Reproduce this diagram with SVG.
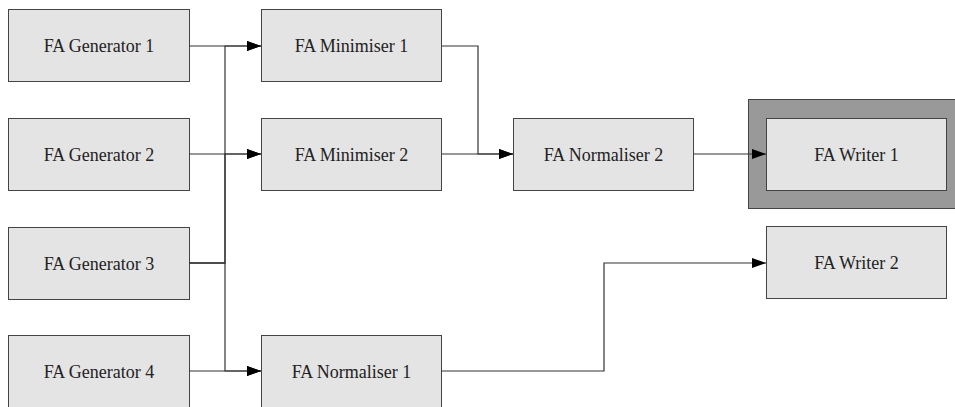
<svg xmlns="http://www.w3.org/2000/svg" width="955" height="407" viewBox="0 0 955 407">
  <style>
    .box { fill: #e4e4e4; stroke: #444; stroke-width: 1; }
    .frame { fill: #999999; stroke: #444; stroke-width: 1; }
    .lbl { font-family: "Liberation Serif", serif; font-size: 18px; fill: #222; text-anchor: middle; }
    .edge { fill: none; stroke: #333; stroke-width: 1.2; }
  </style>
  <defs>
    <marker id="arrow" markerWidth="14" markerHeight="10" refX="14" refY="5" orient="auto" markerUnits="userSpaceOnUse">
      <path d="M0,0 L14,5 L0,10 Z" fill="#000"/>
    </marker>
  </defs>
  <rect width="955" height="407" fill="#fff"/>

  <g id="gen1"><rect class="box" x="8.5" y="9.5" width="181" height="72"/><text class="lbl" x="99" y="52">FA Generator 1</text></g>
  <g id="gen2"><rect class="box" x="8.5" y="118.5" width="181" height="72"/><text class="lbl" x="99" y="161">FA Generator 2</text></g>
  <g id="gen3"><rect class="box" x="8.5" y="227.5" width="181" height="72"/><text class="lbl" x="99" y="270">FA Generator 3</text></g>
  <g id="gen4"><rect class="box" x="8.5" y="335.5" width="181" height="72"/><text class="lbl" x="99" y="378">FA Generator 4</text></g>

  <g id="min1"><rect class="box" x="261.5" y="9.5" width="180" height="72"/><text class="lbl" x="351.5" y="52">FA Minimiser 1</text></g>
  <g id="min2"><rect class="box" x="261.5" y="118.5" width="180" height="72"/><text class="lbl" x="351.5" y="161">FA Minimiser 2</text></g>
  <g id="norm1"><rect class="box" x="261.5" y="335.5" width="180" height="72"/><text class="lbl" x="351.5" y="378">FA Normaliser 1</text></g>

  <g id="norm2"><rect class="box" x="513.5" y="118.5" width="180" height="72"/><text class="lbl" x="603.5" y="161">FA Normaliser 2</text></g>

  <g id="writer1">
    <rect class="frame" x="748.5" y="99.5" width="210" height="109"/>
    <rect class="box" x="766.5" y="118.5" width="180" height="72"/>
    <text class="lbl" x="856.5" y="161">FA Writer 1</text>
  </g>
  <g id="writer2"><rect class="box" x="766.5" y="226.5" width="180" height="72"/><text class="lbl" x="856.5" y="269">FA Writer 2</text></g>

  <!-- edges drawn last so the arrow into the framed writer stays visible -->
  <g id="connectors">
    <path class="edge" d="M189,46 H261" marker-end="url(#arrow)"/>
    <path class="edge" d="M189,154 H261" marker-end="url(#arrow)"/>
    <path class="edge" d="M189,263 H225 V46 H261" marker-end="url(#arrow)"/>
    <path class="edge" d="M189,263 H225 V154 H261" marker-end="url(#arrow)"/>
    <path class="edge" d="M189,263 H225 V371 H261" marker-end="url(#arrow)"/>
    <path class="edge" d="M189,371 H261" marker-end="url(#arrow)"/>
    <path class="edge" d="M442,46 H478 V154 H513" marker-end="url(#arrow)"/>
    <path class="edge" d="M442,154 H513" marker-end="url(#arrow)"/>
    <path class="edge" d="M694,154 H766" marker-end="url(#arrow)"/>
    <path class="edge" d="M441,371 H604 V263 H766" marker-end="url(#arrow)"/>
  </g>
</svg>
